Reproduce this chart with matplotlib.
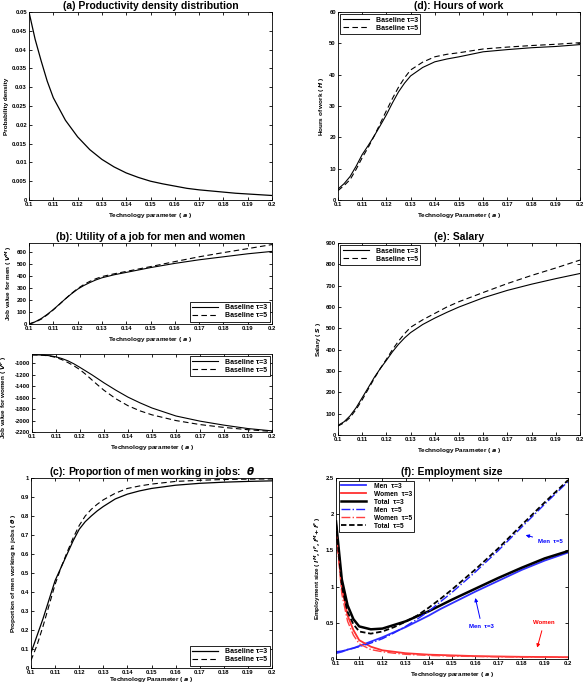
import matplotlib
matplotlib.use('Agg')
import matplotlib.pyplot as plt

plt.rcParams['font.family'] = ['Liberation Sans', 'DejaVu Sans']
plt.rcParams['font.weight'] = 'bold'
plt.rcParams['mathtext.default'] = 'it'

# technology parameter grid
a_grid = [0.1, 0.1025, 0.105, 0.1075, 0.11, 0.115, 0.12, 0.125, 0.13, 0.135, 0.14, 0.145, 0.15,
          0.155, 0.16, 0.165, 0.17, 0.175, 0.18, 0.185, 0.19, 0.195, 0.2]
density = [0.0500, 0.0428, 0.0370, 0.0316, 0.0272, 0.0212, 0.0168, 0.0134, 0.0108, 0.0088, 0.0072,
           0.0060, 0.0050, 0.0043, 0.0037, 0.0031, 0.0027, 0.0024, 0.0021, 0.0018, 0.0016,
           0.0014, 0.0012]

a_mid = [0.1, 0.1025, 0.105, 0.1075, 0.11, 0.1125, 0.115, 0.1175, 0.12, 0.1225, 0.125, 0.1275,
         0.13, 0.135, 0.14, 0.145, 0.15, 0.16, 0.17, 0.18, 0.19, 0.2]
hours_t3 = [3.5, 5.2, 7.5, 10.8, 14.5, 17.4, 20.5, 23.8, 27.2, 31.0, 34.5, 37.3,
            39.6, 42.3, 44.1, 45.0, 45.7, 47.3, 48.0, 48.6, 49.0, 49.6]
hours_t5 = [3.0, 4.6, 6.5, 9.8, 13.5, 16.8, 20.5, 24.5, 28.5, 32.4, 36.0, 39.0,
            41.5, 44.0, 45.7, 46.5, 47.0, 48.2, 48.8, 49.3, 49.7, 50.2]
vmen_t3 = [0, 18, 45, 80, 120, 165, 210, 252, 290, 320, 345, 367,
           385, 410, 430, 450, 470, 505, 535, 560, 585, 605]
vmen_t5 = [0, 15, 40, 76, 118, 163, 210, 255, 295, 328, 355, 377,
           395, 418, 438, 458, 478, 520, 560, 595, 628, 662]
vwom_t3 = [-850, -851, -855, -866, -885, -915, -955, -1008, -1070, -1135, -1200, -1270,
           -1340, -1470, -1590, -1690, -1780, -1920, -2010, -2080, -2140, -2180]
vwom_t5 = [-850, -852, -858, -872, -895, -935, -985, -1043, -1110, -1195, -1290, -1382,
           -1470, -1620, -1740, -1830, -1900, -2000, -2070, -2120, -2160, -2190]
salary_t3 = [45, 62, 90, 128, 175, 222, 270, 312, 350, 390, 425, 455,
             480, 518, 548, 575, 600, 643, 678, 707, 733, 757]
salary_t5 = [42, 57, 82, 120, 165, 215, 265, 312, 355, 400, 440, 475,
             505, 540, 570, 600, 625, 668, 710, 748, 783, 820]
theta_t3 = [0.08, 0.17, 0.26, 0.36, 0.46, 0.53, 0.60, 0.67, 0.73, 0.77, 0.80, 0.827,
            0.85, 0.89, 0.915, 0.932, 0.945, 0.962, 0.972, 0.978, 0.982, 0.985]
theta_t5 = [0.04, 0.12, 0.22, 0.33, 0.44, 0.53, 0.61, 0.685, 0.75, 0.80, 0.835, 0.862,
            0.885, 0.92, 0.945, 0.958, 0.968, 0.982, 0.988, 0.992, 0.994, 0.995]

a_emp = [0.1, 0.1025, 0.105, 0.1075, 0.11, 0.115, 0.12, 0.125, 0.13, 0.135, 0.14, 0.145, 0.15,
         0.16, 0.17, 0.18, 0.19, 0.2]
men_t3 = [0.08, 0.10, 0.13, 0.15, 0.18, 0.24, 0.30, 0.37, 0.44, 0.52, 0.60, 0.69, 0.77,
          0.93, 1.08, 1.23, 1.36, 1.47]
women_t3 = [1.82, 1.00, 0.60, 0.40, 0.26, 0.17, 0.12, 0.10, 0.08, 0.07, 0.06, 0.055, 0.05,
            0.04, 0.035, 0.03, 0.028, 0.025]
total_t3 = [1.90, 1.10, 0.74, 0.55, 0.45, 0.41, 0.42, 0.47, 0.52, 0.59, 0.66, 0.74, 0.82,
            0.97, 1.12, 1.26, 1.39, 1.49]
men_t5 = [0.10, 0.11, 0.13, 0.15, 0.17, 0.22, 0.28, 0.36, 0.45, 0.55, 0.66, 0.79, 0.92,
          1.20, 1.50, 1.82, 2.14, 2.45]
women_t5 = [1.78, 0.90, 0.52, 0.33, 0.21, 0.13, 0.10, 0.08, 0.065, 0.057, 0.05, 0.045, 0.04,
            0.035, 0.03, 0.028, 0.025, 0.022]
total_t5 = [1.88, 1.01, 0.65, 0.48, 0.38, 0.35, 0.38, 0.44, 0.515, 0.60, 0.71, 0.83, 0.96,
            1.235, 1.53, 1.85, 2.165, 2.47]

xticks = [0.1, 0.11, 0.12, 0.13, 0.14, 0.15, 0.16, 0.17, 0.18, 0.19, 0.2]
xticklabels = ['0.1', '0.11', '0.12', '0.13', '0.14', '0.15', '0.16', '0.17', '0.18', '0.19', '0.2']

TICK = 4.2
LAB = 4.6
TIT = 7.5
LEG = 5.0


def style(ax, xlabel, ylabel, yticks, ylim):
    ax.set_xlim(0.1, 0.2)
    ax.set_ylim(*ylim)
    ax.set_xticks(xticks)
    ax.set_xticklabels(xticklabels)
    ax.set_yticks(yticks)
    ax.set_yticklabels(['%g' % v for v in yticks])
    ax.tick_params(direction='in', top=True, right=True, labelsize=TICK, length=2.5,
                   width=0.6, pad=1.5)
    for s in ax.spines.values():
        s.set_linewidth(0.6)
    ax.set_xlabel(xlabel, fontsize=LAB, fontweight='bold', labelpad=2.5)
    ax.set_ylabel(ylabel, fontsize=LAB, fontweight='bold', labelpad=2)


def legend(ax, loc, labels):
    lg = ax.legend(labels, loc=loc, fontsize=LEG, fancybox=False, edgecolor='black',
                   framealpha=1, borderpad=0.3, handlelength=3.8, labelspacing=0.2,
                   handletextpad=1.0, borderaxespad=0.35)
    lg.get_frame().set_linewidth(0.6)
    for t in lg.get_texts():
        t.set_fontweight('bold')


fig = plt.figure(figsize=(5.84, 6.86), dpi=100)

W, H = 584.0, 686.0


def box(l, r, t, b):
    return [l / W, 1 - b / H, (r - l) / W, (b - t) / H]


base = ['Baseline \u03c4=3', 'Baseline \u03c4=5']
tech_l = r'Technology parameter ( $a$ )'
tech_u = r'Technology Parameter ( $a$ )'
dash = (0, (5, 3))

# (a)
ax = fig.add_axes(box(29, 272, 12, 200))
ax.plot(a_grid, density, color='black', lw=0.9)
style(ax, tech_l, 'Probability density',
      [0, 0.005, 0.01, 0.015, 0.02, 0.025, 0.03, 0.035, 0.04, 0.045, 0.05], (0, 0.05))
ax.set_title('(a) Productivity density distribution', fontsize=TIT, fontweight='bold', pad=2)

# (d)
ax = fig.add_axes(box(338, 580, 12, 200))
ax.plot(a_mid, hours_t3, color='black', lw=0.8)
ax.plot(a_mid, hours_t5, color='black', lw=0.8, ls=dash)
style(ax, tech_u, r'Hours of work ( $H$ )', [0, 10, 20, 30, 40, 50, 60], (0, 60))
legend(ax, 'upper left', base)
ax.set_title('(d): Hours of work', fontsize=TIT, fontweight='bold', pad=2)

# (b) men
ax = fig.add_axes(box(29, 272, 243, 324))
ax.plot(a_mid, vmen_t3, color='black', lw=0.8)
ax.plot(a_mid, vmen_t5, color='black', lw=0.8, ls=dash)
style(ax, tech_l, r'Job value for men ( $V^M$ )', [0, 100, 200, 300, 400, 500, 600], (0, 675))
legend(ax, 'lower right', base)
ax.set_title('(b): Utility of a job for men and women', fontsize=TIT, fontweight='bold', pad=2)

# (b) women
ax = fig.add_axes(box(32, 272, 354, 432))
ax.plot(a_mid, vwom_t3, color='black', lw=0.8)
ax.plot(a_mid, vwom_t5, color='black', lw=0.8, ls=dash)
style(ax, tech_l, r'Job value for women ( $V^F$ )',
      [-2200, -2000, -1800, -1600, -1400, -1200, -1000], (-2200, -835))
ax.yaxis.set_label_coords(-0.095, 0.45)
legend(ax, 'upper right', base)

# (e)
ax = fig.add_axes(box(338, 580, 243, 435))
ax.plot(a_mid, salary_t3, color='black', lw=0.8)
ax.plot(a_mid, salary_t5, color='black', lw=0.8, ls=dash)
style(ax, tech_u, r'Salary ( $S$ )', [0, 100, 200, 300, 400, 500, 600, 700, 800, 900], (0, 900))
legend(ax, 'upper left', base)
ax.set_title('(e): Salary', fontsize=TIT, fontweight='bold', pad=2)

# (c)
ax = fig.add_axes(box(31, 272, 478, 668))
ax.plot(a_mid, theta_t3, color='black', lw=0.9)
ax.plot(a_mid, theta_t5, color='black', lw=0.8, ls=dash)
style(ax, tech_u, r'Proportion of men working in jobs ( $\theta$ )',
      [0, 0.1, 0.2, 0.3, 0.4, 0.5, 0.6, 0.7, 0.8, 0.9, 1], (0, 1))
ax.xaxis.set_label_coords(0.5, -0.035)
legend(ax, 'lower right', base)
ax.set_title(r'(c): Proportion of men working in jobs:  $\theta$', fontsize=TIT,
             fontweight='bold', pad=2)

# (f)
ax = fig.add_axes(box(336, 568, 478, 659))
ax.plot(a_emp, men_t3, color='#3030ff', lw=1.3, label='Men  \u03c4=3')
ax.plot(a_emp, women_t3, color='#ff3030', lw=1.3, label='Women  \u03c4=3')
ax.plot(a_emp, total_t3, color='black', lw=1.8, label='Total  \u03c4=3')
ax.plot(a_emp, men_t5, color='#2020ff', lw=1.0, ls='-.', label='Men  \u03c4=5')
ax.plot(a_emp, women_t5, color='#ff4040', lw=1.0, ls='-.', label='Women  \u03c4=5')
ax.plot(a_emp, total_t5, color='black', lw=1.3, ls=(0, (3, 1.5)), label='Total  \u03c4=5')
style(ax, tech_l, r'Employment size ( $l^M, l^F, l^M\!+l^F$ )',
      [0, 0.5, 1, 1.5, 2, 2.5], (0, 2.5))
lg = ax.legend(loc='upper left', fontsize=4.8, fancybox=False, edgecolor='black',
               framealpha=1, borderpad=0.3, handlelength=3.8, labelspacing=0.15,
               handletextpad=1.2, borderaxespad=0.4)
lg.get_frame().set_linewidth(0.6)
ax.set_title('(f): Employment size', fontsize=TIT, fontweight='bold', pad=2)
arr_b = dict(arrowstyle='-|>', color='blue', lw=0.7, mutation_scale=5)
ax.annotate('Men  \u03c4=5', xy=(0.1806, 1.72), xytext=(0.1871, 1.62), color='blue',
            fontsize=4.3, fontweight='bold', va='center', arrowprops=arr_b)
ax.annotate('Men  \u03c4=3', xy=(0.1598, 0.88), xytext=(0.1575, 0.45), color='blue',
            fontsize=4.3, fontweight='bold', va='center', arrowprops=arr_b)
ax.annotate('Women', xy=(0.1864, 0.12), xytext=(0.1850, 0.50), color='red',
            fontsize=4.3, fontweight='bold', va='center',
            arrowprops=dict(arrowstyle='-|>', color='red', lw=0.7, mutation_scale=5))

fig.savefig('out.png', dpi=100)
